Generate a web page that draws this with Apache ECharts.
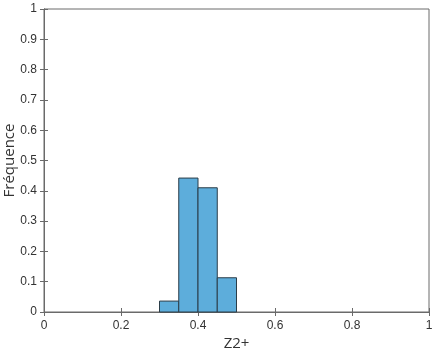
<!DOCTYPE html>
<html>
<head>
<meta charset="utf-8">
<script src="https://cdn.jsdelivr.net/npm/echarts@6/dist/echarts.min.js"></script>
<style>
  html, body { margin: 0; padding: 0; background: #fff; }
  #main { width: 436px; height: 350px; }
</style>
</head>
<body>
<div id="main"></div>
<script>
// histogramme : bornes des classes et fréquences relatives
const binStart = [0.30, 0.35, 0.40, 0.45]
const binEnd = [0.35, 0.40, 0.45, 0.50]
const frequences = [0.036, 0.442, 0.41, 0.113]
const xTicks = [0, 0.2, 0.4, 0.6, 0.8, 1]

let myChart = echarts.init(document.getElementById('main'))

const axisCol = '#6a6a6a'
const labelCol = '#333'
const font = 'Open Sans, DejaVu Sans, sans-serif'
const tickFont = 'Liberation Sans, Arial, sans-serif'

let data = frequences.map((f, i) => [binStart[i], binEnd[i], f])

let options = {
    animation: false,
    grid: {
        left: 44, right: 7, top: 9, bottom: 38,
        outerBoundsMode: 'none', containLabel: false,
        show: true, borderColor: axisCol, borderWidth: 1
    },
    xAxis: [{
        type: 'value', min: 0, max: 1, interval: 0.2,
        name: 'Z2+', nameLocation: 'middle', nameGap: 24, nameMoveOverlap: false,
        nameTextStyle: { fontSize: 15, color: labelCol, fontFamily: font },
        axisLine: { show: true, lineStyle: { color: axisCol } },
        axisTick: { show: true, inside: true, length: 4, lineStyle: { color: axisCol } },
        axisLabel: { fontSize: 12, color: labelCol, fontFamily: tickFont, margin: 8,
            formatter: v => String(+v.toFixed(1)) },
        splitLine: { show: false }
    }, {
        type: 'value', min: 0, max: 1, interval: 0.2, position: 'top',
        axisLine: { show: true, lineStyle: { color: axisCol } },
        axisTick: { show: true, inside: true, length: 4, lineStyle: { color: axisCol } },
        axisLabel: { show: false }, splitLine: { show: false }
    }],
    yAxis: [{
        type: 'value', min: 0, max: 1, interval: 0.1,
        name: 'Fréquence', nameLocation: 'middle', nameGap: 27, nameMoveOverlap: false,
        nameTextStyle: { fontSize: 15, color: labelCol, fontFamily: font },
        axisLine: { show: true, lineStyle: { color: axisCol } },
        axisTick: { show: true, inside: true, length: 4, lineStyle: { color: axisCol } },
        axisLabel: { fontSize: 12, color: labelCol, fontFamily: tickFont, margin: 7,
            formatter: v => String(+v.toFixed(1)) },
        splitLine: { show: false }
    }, {
        type: 'value', min: 0, max: 1, interval: 0.1, position: 'right',
        axisLine: { show: true, lineStyle: { color: axisCol } },
        axisTick: { show: true, inside: true, length: 4, lineStyle: { color: axisCol } },
        axisLabel: { show: false }, splitLine: { show: false }
    }],
    series: [{
        type: 'custom',
        xAxisIndex: 0, yAxisIndex: 0,
        data: data,
        renderItem: function (params, api) {
            let p0 = api.coord([api.value(0), 0])
            let p1 = api.coord([api.value(1), api.value(2)])
            return {
                type: 'rect',
                shape: { x: p0[0], y: p1[1], width: p1[0] - p0[0], height: p0[1] - p1[1] },
                style: { fill: '#5daddb', stroke: '#2b3d48', lineWidth: 1 }
            }
        }
    }]
}

myChart.setOption(options)
</script>
</body>
</html>
